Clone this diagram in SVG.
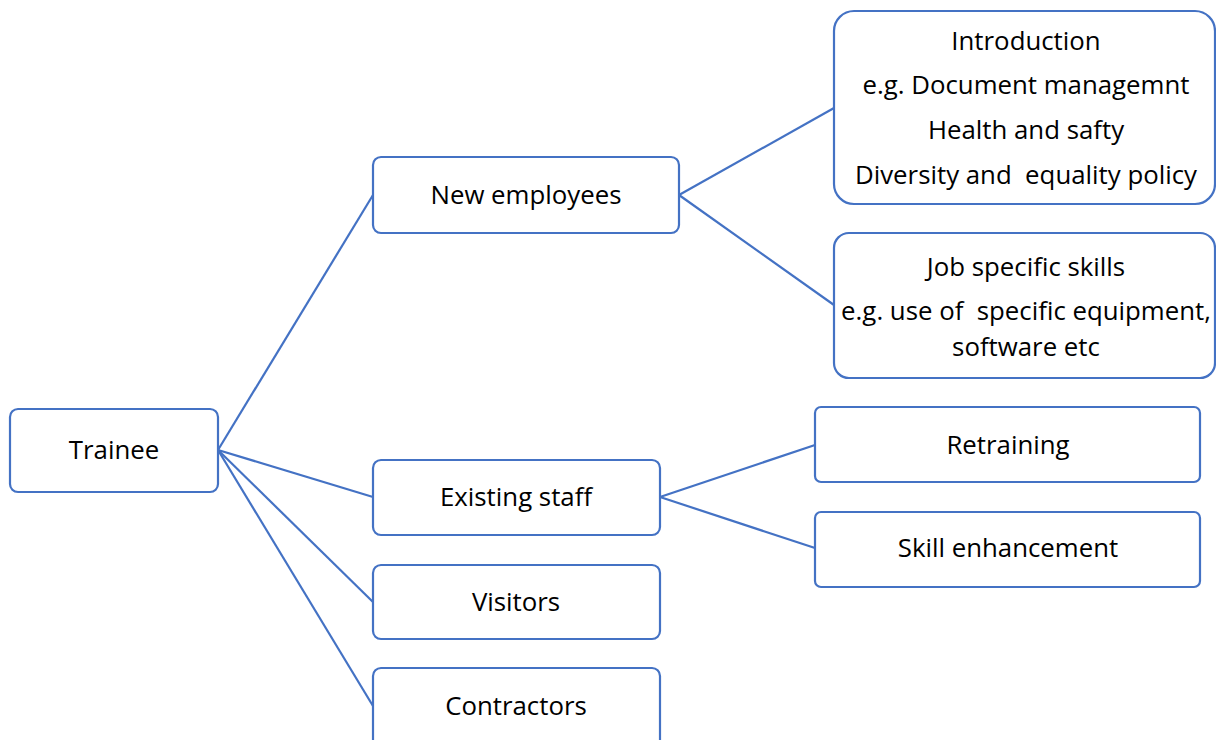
<svg xmlns="http://www.w3.org/2000/svg" width="1216" height="740" viewBox="0 0 1216 740">
<style>
.box{fill:#fff;stroke:#4472C4;stroke-width:2.2}
.t{font-family:"Open Sans","Liberation Sans",Arial,sans-serif;font-size:25.8px;fill:#000;text-anchor:middle;dominant-baseline:central}
.c{stroke:#4472C4;stroke-width:2.2;fill:none}
</style>
<rect width="1216" height="740" fill="#fff"/>
<g id="connectors">
<line class="c" x1="218" y1="450" x2="373" y2="195"/>
<line class="c" x1="218" y1="450" x2="373" y2="497"/>
<line class="c" x1="218" y1="450" x2="373" y2="602"/>
<line class="c" x1="218" y1="450" x2="373" y2="706"/>
<line class="c" x1="679" y1="195" x2="834" y2="108"/>
<line class="c" x1="679" y1="195" x2="834" y2="305"/>
<line class="c" x1="660" y1="497" x2="815" y2="445"/>
<line class="c" x1="660" y1="497" x2="815" y2="548"/>
</g>
<g id="trainee"><rect class="box" x="10" y="409" width="208" height="83" rx="8"/><text class="t" x="114" y="449">Trainee</text></g>
<g id="new-employees"><rect class="box" x="373" y="157" width="306" height="76" rx="8"/><text class="t" x="526" y="194">New employees</text></g>
<g id="existing-staff"><rect class="box" x="373" y="460" width="287" height="75" rx="8"/><text class="t" x="516" y="496">Existing staff</text></g>
<g id="visitors"><rect class="box" x="373" y="565" width="287" height="74" rx="8"/><text class="t" x="516" y="601">Visitors</text></g>
<g id="contractors"><rect class="box" x="373" y="668" width="287" height="80" rx="8"/><text class="t" x="516" y="705">Contractors</text></g>
<g id="introduction"><rect class="box" x="834" y="11" width="381" height="193" rx="20"/>
<text class="t" x="1026" y="40">Introduction</text>
<text class="t" x="1026" y="84">e.g. Document managemnt</text>
<text class="t" x="1026" y="129">Health and safty</text>
<text class="t" x="1026" y="174" xml:space="preserve">Diversity and  equality policy</text></g>
<g id="job-skills"><rect class="box" x="834" y="233" width="381" height="145" rx="15"/>
<text class="t" x="1026" y="266">Job specific skills</text>
<text class="t" x="1026" y="310" xml:space="preserve">e.g. use of  specific equipment,</text>
<text class="t" x="1026" y="346">software etc</text></g>
<g id="retraining"><rect class="box" x="815" y="407" width="385" height="75" rx="6"/><text class="t" x="1008" y="444">Retraining</text></g>
<g id="skill-enhancement"><rect class="box" x="815" y="512" width="385" height="75" rx="6"/><text class="t" x="1008" y="547">Skill enhancement</text></g>
</svg>
